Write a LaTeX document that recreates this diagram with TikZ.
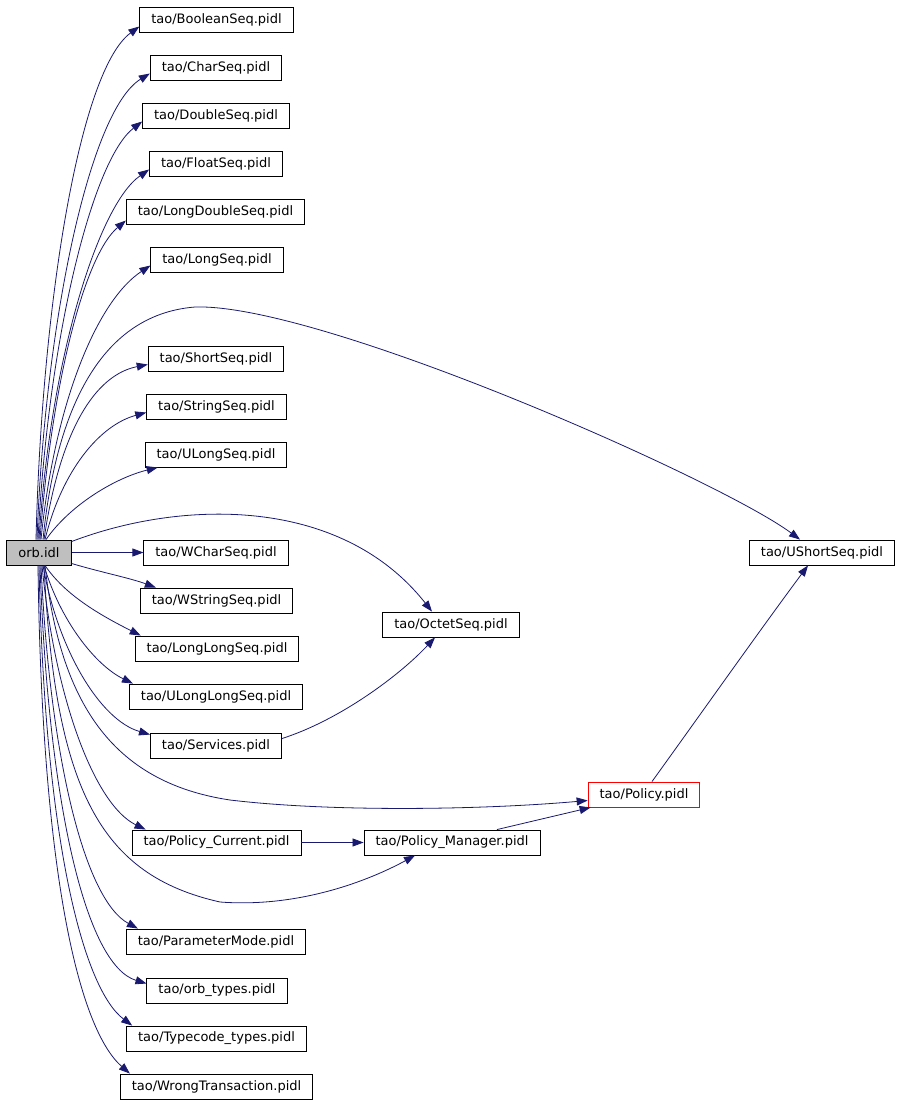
\documentclass[tikz,border=0pt]{standalone}
\usepackage{fontspec}
\setmainfont{DejaVu Sans}
\usetikzlibrary{arrows.meta}
\definecolor{edgeblue}{HTML}{191970}
\definecolor{rootgray}{HTML}{BFBFBF}

\begin{document}
\begin{tikzpicture}[
                file/.style={
                    draw=black,
                    line width=0.9pt,
                    fill=white,
                    inner xsep=11.5pt,
                    inner ysep=0pt,
                    minimum height=25pt,
                    font=\fontsize{13}{15}\selectfont
                },
                dep/.style={
                    draw=edgeblue,
                    line width=0.8pt,
                    -{Triangle[length=11pt,width=8pt]}
                },
                x=1pt,
                y=-1pt
            ]

        \useasboundingbox[fill=white] (0,0) rectangle (901,1104);

        % root
        \node[file,fill=rootgray] (orb) at (39,552.5) {orb.idl};

        % first column
        \node[file] (boolean)    at (216.5,19.5)  {tao/BooleanSeq.pidl};
        \node[file] (char)       at (216,67.5)    {tao/CharSeq.pidl};
        \node[file] (double)     at (216,115.5)   {tao/DoubleSeq.pidl};
        \node[file] (float)      at (216,163.5)   {tao/FloatSeq.pidl};
        \node[file] (longdouble) at (215.5,211.5) {tao/LongDoubleSeq.pidl};
        \node[file] (long)       at (217,259.5)   {tao/LongSeq.pidl};
        \node[file] (short)      at (216,358.5)   {tao/ShortSeq.pidl};
        \node[file] (string)     at (216.5,406.5) {tao/StringSeq.pidl};
        \node[file] (ulong)      at (216,454.5)   {tao/ULongSeq.pidl};
        \node[file] (wchar)      at (216,552.5)   {tao/WCharSeq.pidl};
        \node[file] (wstring)    at (216.5,600.5) {tao/WStringSeq.pidl};
        \node[file] (longlong)   at (217,648.5)   {tao/LongLongSeq.pidl};
        \node[file] (ulonglong)  at (216,696.5)   {tao/ULongLongSeq.pidl};
        \node[file] (services)   at (216,745.5)   {tao/Services.pidl};
        \node[file] (policycur)  at (216.5,842.5) {tao/Policy\_Current.pidl};
        \node[file] (param)      at (216,941.5)   {tao/ParameterMode.pidl};
        \node[file] (orbtypes)   at (217,990.5)   {tao/orb\_types.pidl};
        \node[file] (typecode)   at (216.5,1038.5) {tao/Typecode\_types.pidl};
        \node[file] (wrong)      at (216.5,1086.5) {tao/WrongTransaction.pidl};

        % further columns
        \node[file] (octet)      at (451,624.5)   {tao/OctetSeq.pidl};
        \node[file] (policymgr)  at (452,842.5)   {tao/Policy\_Manager.pidl};
        \node[file,draw=red] (policy) at (644,794.5) {tao/Policy.pidl};
        \node[file] (ushort)     at (822,552.5)   {tao/UShortSeq.pidl};

        % edges leaving the top of orb.idl
        \draw[dep] ([xshift=-3]orb.north) .. controls (42,300) and (80,70) .. ([yshift=-7]boolean.west);
        \draw[dep] ([xshift=-2]orb.north) .. controls (45,320) and (90,110) .. ([yshift=-6]char.west);
        \draw[dep] ([xshift=-1]orb.north) .. controls (48,340) and (92,160) .. ([yshift=-6]double.west);
        \draw[dep] (orb.north) .. controls (50,360) and (98,205) .. ([yshift=-6]float.west);
        \draw[dep] ([xshift=1]orb.north) .. controls (52,380) and (85,255) .. ([yshift=-9]longdouble.west);
        \draw[dep] ([xshift=2]orb.north) .. controls (55,400) and (98,300) .. ([yshift=-6]long.west);
        \draw[dep] ([xshift=4]orb.north) .. controls (55,420) and (95,315) .. (195,307)
            .. controls (320,303) and (720,480) .. ([xshift=-22]ushort.north);
        \draw[dep] ([xshift=5]orb.north) .. controls (60,430) and (95,375) .. ([yshift=-6]short.west);
        \draw[dep] ([xshift=6]orb.north) .. controls (62,470) and (100,425) .. ([yshift=-6]string.west);
        \draw[dep] ([xshift=7]orb.north) .. controls (70,505) and (115,478) .. ([xshift=13]ulong.south west);
        \draw[dep] ([yshift=-2]orb.north east) .. controls (180,500) and (340,495) .. ([xshift=-19]octet.north);

        % edges leaving the side of orb.idl
        \draw[dep] (orb.east) -- (wchar.west);
        \draw[dep] ([yshift=2]orb.south east) .. controls (100,572) and (130,578) .. ([xshift=16]wstring.north west);

        % edges leaving the bottom of orb.idl
        \draw[dep] ([xshift=6]orb.south) .. controls (65,595) and (100,615) .. ([xshift=6]longlong.north west);
        \draw[dep] ([xshift=5]orb.south) .. controls (60,620) and (95,665) .. ([xshift=4]ulonglong.north west);
        \draw[dep] ([xshift=4]orb.south) .. controls (58,650) and (100,720) .. ([yshift=-2]services.north west);
        \draw[dep] ([xshift=6]orb.south) .. controls (60,700) and (110,782) .. (230,800)
            .. controls (330,812) and (480,810) .. ([yshift=-6]policy.west);
        \draw[dep] ([xshift=3]orb.south) .. controls (55,700) and (95,805) .. ([xshift=14]policycur.north west);
        \draw[dep] ([xshift=5]orb.south) .. controls (55,790) and (100,875) .. (220,902)
            .. controls (300,908) and (370,880) .. ([xshift=-37]policymgr.south);
        \draw[dep] ([xshift=2]orb.south) .. controls (50,760) and (85,900) .. ([xshift=12]param.north west);
        \draw[dep] ([xshift=1]orb.south) .. controls (48,800) and (85,965) .. ([yshift=7]orbtypes.west);
        \draw[dep] (orb.south) .. controls (45,850) and (85,990) .. ([xshift=6]typecode.north west);
        \draw[dep] ([xshift=-1]orb.south) .. controls (42,880) and (80,1030) .. ([xshift=10]wrong.north west);

        % remaining edges
        \draw[dep] ([yshift=7]services.east) .. controls (340,720) and (400,675) .. ([xshift=-16]octet.south);
        \draw[dep] (policycur.east) -- (policymgr.west);
        \draw[dep] ([xshift=45]policymgr.north) -- ([xshift=3]policy.south west);
        \draw[dep] ([xshift=8]policy.north) .. controls (700,715) and (760,630) .. ([xshift=-14]ushort.south);

            \end{tikzpicture}
\end{document}
